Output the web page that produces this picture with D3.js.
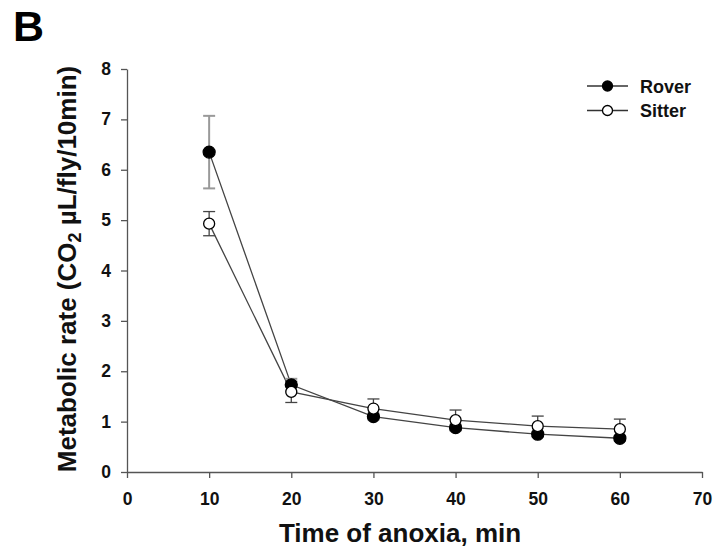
<!DOCTYPE html>
<html>
<head>
<meta charset="utf-8">
<script src="https://cdn.jsdelivr.net/npm/d3@7"></script>
<style>
  body { margin: 0; background: #fff; }
  text { font-family: "Liberation Sans", Arial, sans-serif; font-weight: bold; }
</style>
</head>
<body>
<script>
// data
const times = [10, 20, 30, 40, 50, 60];
const rover = [6.35, 1.73, 1.10, 0.88, 0.75, 0.67];
const roverErr = [0.72, 0.12, 0.06, 0.06, 0.05, 0.05];
const sitter = [4.93, 1.59, 1.26, 1.03, 0.91, 0.85];
const sitterErr = [0.24, 0.21, 0.19, 0.20, 0.20, 0.20];
const xTicks = [0, 10, 20, 30, 40, 50, 60, 70];
const yTicks = [0, 1, 2, 3, 4, 5, 6, 7, 8];

const width = 716, height = 552;

const svg = d3.select("body").append("svg")
    .attr("width", width)
    .attr("height", height);

// scales
const xScale = d3.scaleLinear().domain([0, 70]).range([127, 702]);
const yScale = d3.scaleLinear().domain([0, 8]).range([472, 69]);

// axes
const bottomAxis = d3.axisBottom(xScale).tickValues(xTicks).tickSize(6).tickSizeOuter(0).tickPadding(15);
const leftAxis = d3.axisLeft(yScale).tickValues(yTicks).tickSize(6).tickSizeOuter(0).tickPadding(10);

const gx = svg.append("g")
    .attr("transform", "translate(0," + yScale(0) + ")")
    .call(bottomAxis);
const gy = svg.append("g")
    .attr("transform", "translate(" + xScale(0) + ",0)")
    .call(leftAxis);

[gx, gy].forEach(g => {
    g.selectAll("path, line").attr("stroke", "#555").attr("stroke-width", 1.3);
    g.selectAll("text").attr("fill", "#111").style("font-size", "17.5px");
});

// series
const series = [
    { name: "Rover", vals: rover, err: roverErr, fill: "#000", barColor: "#999", barW: 2, r: 6 },
    { name: "Sitter", vals: sitter, err: sitterErr, fill: "#fff", barColor: "#444", barW: 1.3, r: 5.5 }
];

const line = d3.line()
    .x((d, i) => xScale(times[i]))
    .y(d => yScale(d));

series.forEach(s => {
    svg.append("path")
        .datum(s.vals)
        .attr("d", line)
        .attr("fill", "none")
        .attr("stroke", "#444")
        .attr("stroke-width", 1.3);
});

series.forEach(s => {
    const g = svg.append("g");
    s.vals.forEach((v, i) => {
        const x = xScale(times[i]);
        const top = yScale(v + s.err[i]), bot = yScale(v - s.err[i]);
        g.append("line").attr("x1", x).attr("x2", x).attr("y1", top).attr("y2", bot)
            .attr("stroke", s.barColor).attr("stroke-width", s.barW);
        [top, bot].forEach(yy => {
            g.append("line").attr("x1", x - 6).attr("x2", x + 6).attr("y1", yy).attr("y2", yy)
                .attr("stroke", s.barColor).attr("stroke-width", s.barW);
        });
    });
});

series.forEach(s => {
    svg.append("g").selectAll("circle")
        .data(s.vals)
        .enter()
        .append("circle")
        .attr("cx", (d, i) => xScale(times[i]))
        .attr("cy", d => yScale(d))
        .attr("r", s.r)
        .attr("fill", s.fill)
        .attr("stroke", "#000")
        .attr("stroke-width", 1.3);
});

// legend
series.forEach((s, i) => {
    const y = 86 + i * 24.5;
    svg.append("line").attr("x1", 587).attr("x2", 628).attr("y1", y).attr("y2", y)
        .attr("stroke", "#333").attr("stroke-width", 1.3);
    svg.append("circle").attr("cx", 607.5).attr("cy", y).attr("r", 5)
        .attr("fill", s.fill).attr("stroke", "#000").attr("stroke-width", 1.3);
    svg.append("text").attr("x", 640).attr("y", y + 6.5)
        .style("font-size", "18px").attr("fill", "#111").text(s.name);
});

// labels
svg.append("text")
    .attr("x", 400).attr("y", 542)
    .attr("text-anchor", "middle")
    .style("font-size", "26px").attr("fill", "#111")
    .text("Time of anoxia, min");

const yl = svg.append("text")
    .attr("transform", "translate(76,269) rotate(-90)")
    .attr("text-anchor", "middle")
    .style("font-size", "26px").attr("fill", "#111");
yl.append("tspan").text("Metabolic rate (CO");
yl.append("tspan").attr("baseline-shift", "-30%").style("font-size", "18px").text("2");
yl.append("tspan").text(" µL/fly/10min)");

svg.append("text")
    .attr("x", 13).attr("y", 41)
    .style("font-size", "43px").attr("fill", "#000")
    .text("B");
</script>
</body>
</html>
